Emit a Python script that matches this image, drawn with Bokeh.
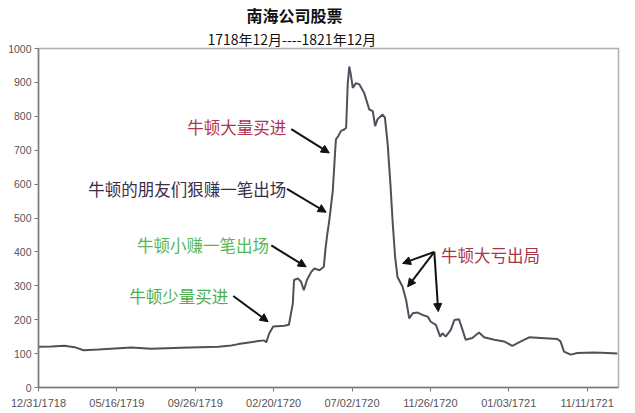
from bokeh.plotting import figure
from bokeh.models import Range1d, FixedTicker, Label, Arrow, NormalHead, Title
from bokeh.embed import file_html
from bokeh.resources import INLINE

# ---- data -------------------------------------------------------------
# x: trading-period index (axis labelled every 20 periods), y: share price
period = [0, 3.3, 6.6, 9.2, 11.5, 15.3, 23.7, 28.8, 36.4, 45.9,
          49.2, 51.0, 56.1, 57.6, 58.1, 58.9, 59.9, 62.7, 63.9, 64.9,
          65.2, 66.2, 67.0, 67.7, 68.5, 69.6, 70.4, 71.7, 72.8, 73.2,
          73.6, 74.2, 75.1, 75.7, 75.9, 76.5, 77.2, 78.0, 78.5, 78.9,
          79.3, 79.7, 80.2, 81.0, 81.9, 83.1, 84.4, 85.3, 85.9, 86.5,
          87.8, 88.4, 89.1, 89.8, 90.4, 91.0, 91.6, 92.9, 93.8, 94.6,
          95.5, 96.7, 98.0, 99.3, 100.1, 101.4, 102.5, 103.1, 103.9, 105.2,
          106.1, 107.3, 108.2, 109.0, 110.7, 112.4, 113.7, 116.3, 118.8, 120.9,
          123.1, 125.2, 128.2, 132.4, 133.2, 134.1, 135.8, 137.5, 141.7, 145.1, 147.7]
price = [120, 121, 123, 119, 110, 112, 118, 114, 117, 120,
         124, 128, 137, 139, 133, 160, 180, 182, 185, 248,
         317, 322, 312, 287, 317, 341, 351, 346, 356, 405,
         444, 493, 581, 698, 732, 742, 757, 761, 766, 894,
         947, 923, 884, 898, 894, 869, 820, 815, 771, 791,
         805, 796, 718, 600, 483, 385, 326, 297, 258, 204,
         219, 221, 214, 209, 194, 185, 150, 160, 150, 170,
         199, 201, 170, 141, 146, 162, 148, 141, 136, 123,
         136, 148, 146, 143, 136, 106, 97, 102, 103, 102, 100]

tick_periods = [0, 20, 40, 60, 80, 100, 120, 140]
tick_labels = ["12/31/1718", "05/16/1719", "09/26/1719", "02/20/1720",
               "07/02/1720", "11/26/1720", "01/03/1721", "11/11/1721"]
y_ticks = [0, 100, 200, 300, 400, 500, 600, 700, 800, 900, 1000]

title_text = "南海公司股票"
subtitle_text = "1718年12月----1821年12月"

note_texts = ["牛顿大量买进", "牛顿的朋友们狠赚一笔出场", "牛顿小赚一笔出场",
              "牛顿少量买进", "牛顿大亏出局"]

# ---- annotation layout (positions in data units) ------------------------
note_pos = [(63.2, 768, "right"), (63.2, 587, "right"), (58.8, 419, "right"),
            (48.4, 270, "right"), (102.7, 390, "left")]
note_colors = ["#b0344c", "#3b2d48", "#55b855", "#4cae4c", "#a8354a"]
arrows = [((64.5, 762), (74.2, 692)),
          ((63.4, 586), (73.4, 517)),
          ((59.4, 419), (68.3, 356)),
          ((49.7, 270), (58.6, 194)),
          ((101.0, 400), (92.9, 366)),
          ((101.0, 400), (94.2, 297)),
          ((101.0, 400), (102.0, 224))]

CJK = "Noto Sans CJK SC"
LAT = "Liberation Sans"

p = figure(width=635, height=413, output_backend="svg", toolbar_location=None,
           x_range=Range1d(0, 148), y_range=Range1d(0, 1000),
           min_border_left=38, min_border_right=17, min_border_top=46,
           min_border_bottom=26)

p.title.text = title_text
p.title.text_font = CJK
p.title.text_font_size = "16px"
p.title.text_font_style = "bold"
p.title.align = "left"
p.title.offset = 208
p.title.standoff = 0
p.title.text_color = "#111111"
p.add_layout(Title(text=subtitle_text, text_font=CJK, text_font_size="14px",
                   text_font_style="normal", align="left", offset=169,
                   standoff=0, text_color="#111111"), "above")

p.line(period, price, line_color="#50505c", line_width=2)

p.xgrid.visible = False
p.ygrid.visible = False
p.outline_line_color = "#b0b0b0"
p.outline_line_width = 1.5
p.background_fill_color = "white"
p.border_fill_color = "white"

p.xaxis.ticker = FixedTicker(ticks=tick_periods)
p.xaxis.major_label_overrides = {t: l for t, l in zip(tick_periods, tick_labels)}
p.yaxis.ticker = FixedTicker(ticks=y_ticks)
for ax in (p.xaxis[0], p.yaxis[0]):
    ax.axis_line_color = "#7a7a7a"
    ax.axis_line_width = 1.5
    ax.major_tick_line_color = "#7a7a7a"
    ax.major_tick_in = 0
    ax.major_tick_out = 4
    ax.minor_tick_line_color = None
    ax.major_label_text_font = LAT
    ax.major_label_text_color = "#555555"
    ax.major_label_standoff = 3
    ax.axis_label = None
p.xaxis.major_label_standoff = 5
p.xaxis.major_label_text_line_height = 1.0
p.xaxis.major_label_text_font_size = "11px"
p.yaxis.major_label_text_font_size = "10.5px"

for (txt, (x, y, al), col) in zip(note_texts, note_pos, note_colors):
    p.add_layout(Label(x=x, y=y, text=txt, text_font=CJK, text_font_size="16.5px",
                       text_color=col, text_align=al, text_baseline="middle"))

for (x0, y0), (x1, y1) in arrows:
    p.add_layout(Arrow(x_start=x0, y_start=y0, x_end=x1, y_end=y1,
                       line_color="#111111", line_width=2,
                       end=NormalHead(size=8, fill_color="#111111",
                                      line_color="#111111")))

open("out.html", "w").write(file_html(p, INLINE))
